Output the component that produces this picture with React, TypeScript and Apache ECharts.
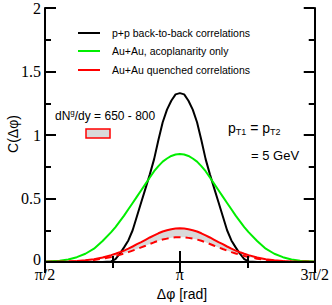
import React, { useEffect, useRef } from "react";
import * as echarts from "echarts";

const phi = [1.5708,1.7416,1.8416,1.9416,2.0416,2.1416,2.2416,2.3416,2.3916,2.4416,2.4916,2.5416,2.5916,2.6416,2.6916,2.7416,2.7916,2.8416,2.8916,2.9416,2.9916,3.0416,3.0916,3.1416,3.1916,3.2416,3.2916,3.3416,3.3916,3.4416,3.4916,3.5416,3.5916,3.6416,3.6916,3.7416,3.7916,3.8416,3.8916,3.9416,4.0416,4.1416,4.2416,4.3416,4.4416,4.5416,4.7124];

const ppBackToBack = [0,0,0,0,0,0,0,0.004,0.022,0.065,0.115,0.17,0.25,0.36,0.47,0.58,0.69,0.81,0.96,1.10,1.20,1.27,1.32,1.33,1.32,1.27,1.20,1.10,0.96,0.81,0.69,0.58,0.47,0.36,0.25,0.17,0.115,0.065,0.022,0.004,0,0,0,0,0,0,0];

const auAcoplanarity = [0.003,0.01,0.02,0.038,0.065,0.105,0.165,0.235,0.275,0.32,0.365,0.415,0.465,0.515,0.565,0.615,0.665,0.715,0.755,0.79,0.815,0.835,0.846,0.85,0.846,0.835,0.815,0.79,0.755,0.715,0.665,0.615,0.565,0.515,0.465,0.415,0.365,0.32,0.275,0.235,0.165,0.105,0.065,0.038,0.02,0.01,0.003];

const auQuenched650 = [0.001,0.002,0.004,0.007,0.013,0.022,0.035,0.054,0.065,0.077,0.09,0.105,0.122,0.14,0.157,0.175,0.193,0.21,0.226,0.24,0.25,0.258,0.263,0.265,0.263,0.258,0.25,0.24,0.226,0.21,0.193,0.175,0.157,0.14,0.122,0.105,0.09,0.077,0.065,0.054,0.035,0.022,0.013,0.007,0.004,0.002,0.001];

const auQuenched800 = [0.0008,0.0015,0.003,0.005,0.01,0.016,0.026,0.04,0.048,0.057,0.067,0.078,0.09,0.102,0.115,0.128,0.142,0.155,0.167,0.177,0.184,0.19,0.194,0.195,0.194,0.19,0.184,0.177,0.167,0.155,0.142,0.128,0.115,0.102,0.09,0.078,0.067,0.057,0.048,0.04,0.026,0.016,0.01,0.005,0.003,0.0015,0.0008];

const legendLabels = ["p+p back-to-back correlations", "Au+Au, acoplanarity only", "Au+Au quenched correlations"];
const legendColors = ["#000000", "#00ee00", "#ff0000"];
const yTickLabels = ["0", "0.5", "1", "1.5", "2"];

const SERIF = "'Liberation Serif', 'DejaVu Serif', serif";
const SANS = "'Liberation Sans', Arial, sans-serif";

function xLabel(v: number): string {
  const r = v / Math.PI;
  if (Math.abs(r - 0.5) < 1e-3) return "π/2";
  if (Math.abs(r - 1) < 1e-3) return "π";
  if (Math.abs(r - 1.5) < 1e-3) return "3π/2";
  return "";
}

export default function App() {
  const ref = useRef<HTMLDivElement>(null);
  useEffect(() => {
    if (!ref.current) return;
    const chart = echarts.init(ref.current, null, { renderer: "svg" });
    const pts = (arr: number[]) => arr.map((v, i) => [phi[i], v]);

    const axisCommon = {
      min: Math.PI / 2,
      max: (3 * Math.PI) / 2,
      interval: Math.PI / 2,
      z: 10,
      axisLine: { lineStyle: { color: "#000", width: 2 } },
      axisTick: { inside: true, length: 11, lineStyle: { color: "#000", width: 2 } },
      minorTick: { show: true, splitNumber: 2, length: 6, lineStyle: { color: "#000", width: 2 } },
      splitLine: { show: false },
    };
    const yCommon = {
      min: 0,
      max: 2,
      interval: 0.5,
      z: 10,
      axisLine: { show: true, lineStyle: { color: "#000", width: 2 } },
      axisTick: { show: true, inside: true, length: 11, lineStyle: { color: "#000", width: 2 } },
      minorTick: { show: true, splitNumber: 2, length: 6, lineStyle: { color: "#000", width: 2 } },
      splitLine: { show: false },
    };

    const legendGraphics: any[] = [];
    const legendY = [33, 51, 70];
    legendLabels.forEach((t, i) => {
      legendGraphics.push({
        type: "line",
        shape: { x1: 78, y1: legendY[i], x2: 100, y2: legendY[i] },
        style: { stroke: legendColors[i], lineWidth: 2 },
        z: 10,
      });
      legendGraphics.push({
        type: "text",
        x: 112,
        y: legendY[i],
        style: { text: t, font: `10.5px ${SANS}`, fill: "#000", verticalAlign: "middle", align: "left" },
        z: 10,
      });
    });

    chart.setOption({
      animation: false,
      backgroundColor: "#fff",
      grid: { left: 45, right: 16, top: 8, bottom: 43, containLabel: false },
      xAxis: [
        {
          type: "value",
          position: "bottom",
          ...axisCommon,
          axisLabel: {
            formatter: xLabel,
            margin: 5,
            color: "#000",
            fontSize: 16,
            fontFamily: SERIF,
            lineHeight: 14,
            showMinLabel: true,
            showMaxLabel: true,
          },
        },
        {
          type: "value",
          position: "top",
          ...axisCommon,
          axisLabel: { show: false },
        },
      ],
      yAxis: [
        {
          type: "value",
          position: "left",
          ...yCommon,
          axisLabel: {
            formatter: (v: number) => {
              const t = yTickLabels[Math.round(v / 0.5)] ?? "";
              return v === 0 ? `{z|${t}}` : t;
            },
            margin: 4,
            color: "#000",
            fontSize: 16,
            fontFamily: SERIF,
            lineHeight: 8,
            rich: {
              z: { fontSize: 16, fontFamily: SERIF, color: "#000", lineHeight: 8, padding: [0, 0, 5, 0] },
            },
          },
        },
        {
          type: "value",
          position: "right",
          ...yCommon,
          axisLabel: { show: false },
        },
      ],
      series: [
        {
          type: "custom",
          silent: true,
          z: 1,
          data: [0],
          renderItem: (params: any, api: any) => {
            const upper = auQuenched650.map((v, i) => api.coord([phi[i], v]));
            const lower = auQuenched800.map((v, i) => api.coord([phi[i], v])).reverse();
            return {
              type: "polygon",
              shape: { points: upper.concat(lower) },
              style: { fill: "#d9d9d9", stroke: "none" },
            };
          },
        },
        {
          type: "line",
          data: pts(ppBackToBack),
          symbol: "none",
          lineStyle: { color: "#000", width: 2 },
          z: 3,
        },
        {
          type: "line",
          data: pts(auAcoplanarity),
          symbol: "none",
          lineStyle: { color: "#00ee00", width: 2 },
          z: 3,
        },
        {
          type: "line",
          data: pts(auQuenched650),
          symbol: "none",
          lineStyle: { color: "#ff0000", width: 2 },
          z: 4,
        },
        {
          type: "line",
          data: pts(auQuenched800),
          symbol: "none",
          lineStyle: { color: "#ff0000", width: 2, type: [7, 5] },
          z: 4,
        },
      ],
      graphic: [
        ...legendGraphics,
        {
          type: "text",
          x: 55,
          y: 116,
          style: {
            text: "{a|dN}{s|g}{a|/dy = 650 - 800}",
            verticalAlign: "middle",
            rich: {
              a: { font: `12px ${SANS}`, fill: "#000" },
              s: { font: `8px ${SANS}`, fill: "#000", verticalAlign: "top", padding: [0, 0, 7, 0] },
            },
          },
          z: 10,
        },
        {
          type: "rect",
          shape: { x: 86, y: 129, width: 24, height: 9 },
          style: { fill: "#d9d9d9", stroke: "#ff0000", lineWidth: 1.5 },
          z: 10,
        },
        {
          type: "text",
          x: 228,
          y: 128,
          style: {
            text: "{a|p}{s|T1}{a| = p}{s|T2}",
            verticalAlign: "middle",
            rich: {
              a: { font: `14px ${SANS}`, fill: "#000" },
              s: { font: `9px ${SANS}`, fill: "#000", padding: [7, 0, 0, 0] },
            },
          },
          z: 10,
        },
        {
          type: "text",
          x: 251,
          y: 155,
          style: { text: "= 5 GeV", font: `13px ${SANS}`, fill: "#000", verticalAlign: "middle" },
          z: 10,
        },
        {
          type: "text",
          x: 182,
          y: 294,
          style: { text: "Δφ [rad]", font: `14px ${SANS}`, fill: "#000", align: "center", verticalAlign: "middle" },
          z: 10,
        },
        {
          type: "text",
          x: 13,
          y: 134,
          rotation: Math.PI / 2,
          style: { text: "C(Δφ)", font: `14px ${SANS}`, fill: "#000", align: "center", verticalAlign: "middle" },
          z: 10,
        },
      ],
    });
    return () => chart.dispose();
  }, []);
  return (
    <div
      ref={ref}
      style={{ position: "absolute", left: 0, top: 0, width: 332, height: 305 }}
    />
  );
}
